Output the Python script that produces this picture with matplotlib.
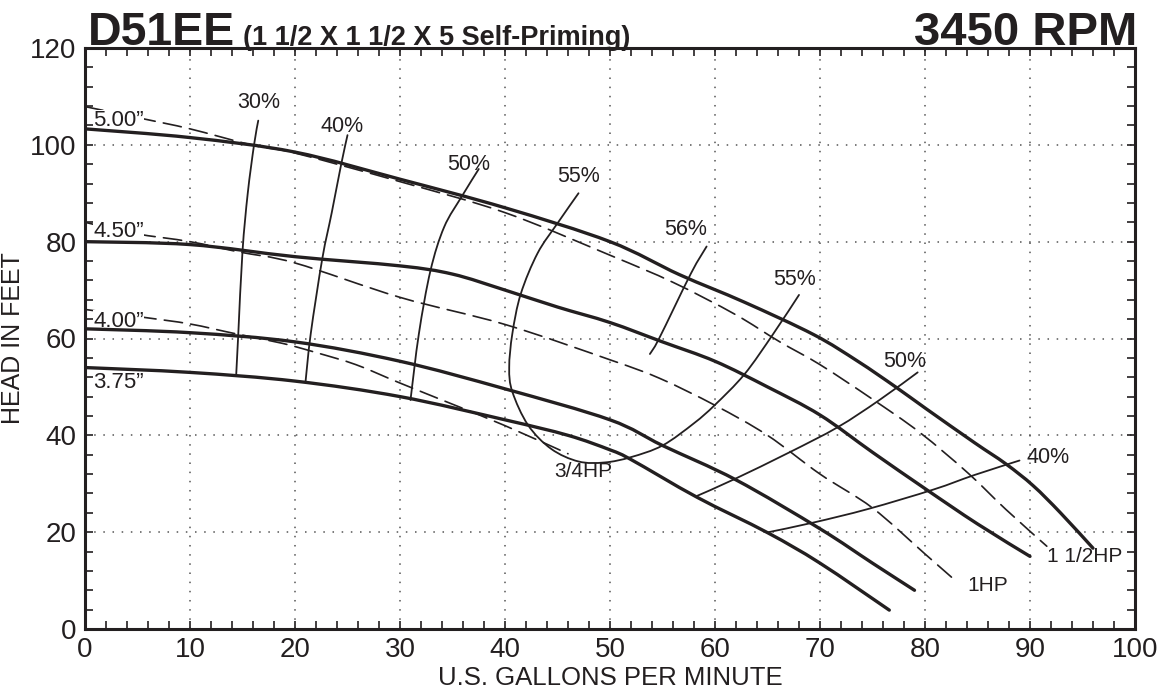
import matplotlib
matplotlib.use('agg')
import matplotlib.pyplot as plt
from matplotlib.path import Path
from matplotlib.patches import PathPatch
from matplotlib import font_manager
import numpy as np

# head-capacity curves, one per impeller diameter (US GPM, head in ft)
imp_500_gpm = [0, 10, 20, 30, 40, 50, 56.6, 62.8, 69.4, 73.6, 77.2, 80.1, 84.7, 87.7, 90.3, 92.9, 96]
imp_500_head = [103.3, 101.5, 98.5, 92.9, 87, 80, 73.2, 67.5, 60.8, 55.3, 50, 45.5, 38.5, 34.1, 29.6, 24, 16.7]
imp_450_gpm = [0, 10, 20, 30, 35, 40, 45, 50, 55, 60, 65, 70, 75, 80, 85, 90]
imp_450_head = [80, 79.4, 76.9, 75, 73.3, 70, 66.5, 63.3, 59.3, 55.3, 50, 44.2, 36.5, 29, 21.7, 15]
imp_400_gpm = [0, 10, 20, 30, 40, 50, 55, 62, 70, 75, 79]
imp_400_head = [62, 61.2, 59.3, 55.3, 49.6, 43.2, 37.9, 30.8, 20.7, 13.6, 8]
imp_375_gpm = [0, 10, 20, 30, 40, 46, 50, 52, 58.3, 65, 70, 76.6]
imp_375_head = [54, 53, 51.2, 48, 43.2, 40, 37, 35, 27.2, 19.9, 13.6, 3.9]
imp_labels = ['5.00\u201d', '4.50\u201d', '4.00\u201d', '3.75\u201d']
imp_label_head = [105.0, 82.2, 63.6, 51]

# horsepower limit curves (dashed)
hp_150_gpm = [0, 5.5, 10, 16, 20, 30, 40, 50, 56, 61.9, 66.1, 70, 74.9, 79.5, 84.1, 87.7, 91.6]
hp_150_head = [107.9, 105.4, 103.3, 99.9, 98.3, 92.4, 86, 77.2, 71.6, 65, 59.4, 54.6, 47.6, 40.6, 32.2, 24.7, 17.1]
hp_100_gpm = [0, 4.7, 10, 14.6, 20, 30, 40, 50, 54.7, 60, 65, 70, 75, 80, 83]
hp_100_head = [84, 81.7, 80, 77.9, 75.6, 68.5, 62.9, 55.6, 51.8, 46.2, 40, 32, 25, 15.5, 9.8]
hp_075_gpm = [0, 5.5, 10, 14.3, 18.8, 22, 25.8, 30, 34.8, 40, 46]
hp_075_head = [66, 64.4, 63, 61, 59, 57.1, 54.6, 50.8, 46.6, 42, 36.2]
hp_labels = ['3/4HP', '1HP', '1 1/2HP']
hp_label_gpm = [47.5, 86.0, 95.2]
hp_label_head = [32.6, 8.9, 14.9]

# efficiency lines (thin)
eff_30_gpm = [16.5, 16.1, 15.5, 15, 14.6, 14.4]
eff_30_head = [105, 100, 90, 78, 61, 52.5]
eff_40_gpm = [25, 24.4, 23.5, 22.6, 21.5, 21]
eff_40_head = [102, 96, 86, 76.5, 61, 51]
eff_50_gpm = [37.5, 35.9, 34.2, 32.9, 31.8, 31]
eff_50_head = [95, 89.4, 83, 74, 61, 47.3]
eff_55_gpm = [47, 45, 43.1, 41.5, 40.7, 40.4, 40.7, 42.2, 44.4, 47, 49.5, 52, 55, 58, 60, 62.8, 65.5, 68]
eff_55_head = [90, 83.8, 77.6, 69.2, 61, 54, 49, 42.1, 37.2, 34.6, 34.4, 35.5, 37.9, 42.5, 46.3, 52.6, 60.8, 69]
eff_56_gpm = [59.2, 57.7, 54.7, 53.8]
eff_56_head = [79, 73.4, 60.1, 56.8]
eff_50r_gpm = [58.3, 61.8, 67.1, 71.7, 75.6, 79.3]
eff_50r_head = [27.5, 30.9, 36.5, 41.7, 47.2, 53]
eff_40r_gpm = [65.1, 69.4, 74.6, 80.8, 84.7, 89]
eff_40r_head = [20, 22, 24.8, 28.8, 31.8, 34.8]
eff_labels = ['30%', '40%', '50%', '55%', '56%', '55%', '50%', '40%']
eff_label_gpm = [16.5, 24.5, 36.5, 47.0, 57.2, 67.6, 78.1, 91.7]
eff_label_head = [108.7, 103.7, 95.9, 93.4, 82.6, 72.1, 55.2, 35.5]


def smooth_path(xs, ys):
    """Catmull-Rom spline through the points, as a bezier path."""
    p = np.column_stack([xs, ys]).astype(float)
    verts = [p[0]]
    codes = [Path.MOVETO]
    for i in range(len(p) - 1):
        p0 = p[i - 1] if i > 0 else p[i]
        p1, p2 = p[i], p[i + 1]
        p3 = p[i + 2] if i + 2 < len(p) else p[i + 1]
        verts += [p1 + (p2 - p0) / 6., p2 - (p3 - p1) / 6., p2]
        codes += [Path.CURVE4] * 3
    return Path(verts, codes)


def draw(ax, xs, ys, **kw):
    ax.add_patch(PathPatch(smooth_path(xs, ys), fill=False,
                           capstyle='round', joinstyle='round', **kw))


names = {f.name for f in font_manager.fontManager.ttflist}
narrow = 'Liberation Sans Narrow' if 'Liberation Sans Narrow' in names else 'Liberation Sans'
plt.rcParams['font.family'] = ['Liberation Sans', 'DejaVu Sans']

fig = plt.figure(figsize=(11.72, 6.98), dpi=100)
ax = fig.add_axes([85 / 1172, 69 / 698, 1050 / 1172, 581 / 698])

ink = '#231f20'
thick = dict(color=ink, lw=2.4, zorder=2.5)
thin = dict(color=ink, lw=1.3, zorder=2.2)
dash = dict(color=ink, lw=1.2, linestyle=(0, (11, 5)), zorder=1.5)

for g, h in [(imp_500_gpm, imp_500_head), (imp_450_gpm, imp_450_head),
             (imp_400_gpm, imp_400_head), (imp_375_gpm, imp_375_head)]:
    draw(ax, g, h, **thick)
for g, h in [(hp_150_gpm, hp_150_head), (hp_100_gpm, hp_100_head),
             (hp_075_gpm, hp_075_head)]:
    draw(ax, g, h, **dash)
for g, h in [(eff_30_gpm, eff_30_head), (eff_40_gpm, eff_40_head),
             (eff_50_gpm, eff_50_head), (eff_55_gpm, eff_55_head),
             (eff_56_gpm, eff_56_head), (eff_50r_gpm, eff_50r_head),
             (eff_40r_gpm, eff_40r_head)]:
    draw(ax, g, h, **thin)

# curve labels (white box hides the dashed line under the diameter text)
for lab, hh in zip(imp_labels, imp_label_head):
    ax.text(0.8, hh, lab, fontsize=16, color=ink, ha='left', va='center',
            zorder=2, bbox=dict(facecolor='white', edgecolor='none', pad=0.3))
for lab, g, hh in zip(eff_labels, eff_label_gpm, eff_label_head):
    ax.text(g, hh, lab, fontsize=15.5, color=ink, ha='center', va='center')
for lab, g, hh in zip(hp_labels, hp_label_gpm, hp_label_head):
    ax.text(g, hh, lab, fontsize=15, color=ink, ha='center', va='center')

# axes formatting
ax.set_xlim(0, 100)
ax.set_ylim(0, 120)
ax.set_xticks(np.arange(0, 101, 10))
ax.set_yticks(np.arange(0, 121, 20))
ax.set_xticks(np.arange(0, 101, 2), minor=True)
ax.set_yticks(np.arange(0, 121, 4), minor=True)
ax.tick_params(which='both', direction='in', top=True, right=True,
               length=6, width=1.2, color=ink)
ax.tick_params(which='major', labelsize=20, labelcolor=ink, pad=6)
ax.grid(True, which='major', color='#555555', lw=1.1, linestyle=(0, (1, 5)))
ax.set_axisbelow(True)
for s in ax.spines.values():
    s.set_linewidth(2.2)
    s.set_color(ink)
    s.set_zorder(3)
ax.set_xlabel('U.S. GALLONS PER MINUTE', fontsize=18.5, color=ink, labelpad=2)
ax.set_ylabel('HEAD IN FEET', fontsize=18, color=ink, labelpad=4)

# header
fig.text(88 / 1172, 1 - 45 / 698, 'D51EE', fontsize=33.5, fontweight='bold',
         family=narrow, color=ink, ha='left', va='baseline')
fig.text(243 / 1172, 1 - 45 / 698, '(1 1/2 X 1 1/2 X 5 Self-Priming)',
         fontsize=19.5, fontweight='bold', family=narrow, color=ink,
         ha='left', va='baseline')
fig.text(1137 / 1172, 1 - 45 / 698, '3450 RPM', fontsize=34,
         fontweight='bold', family=narrow, color=ink, ha='right',
         va='baseline')

fig.savefig('out.png', dpi=100, facecolor='white')
